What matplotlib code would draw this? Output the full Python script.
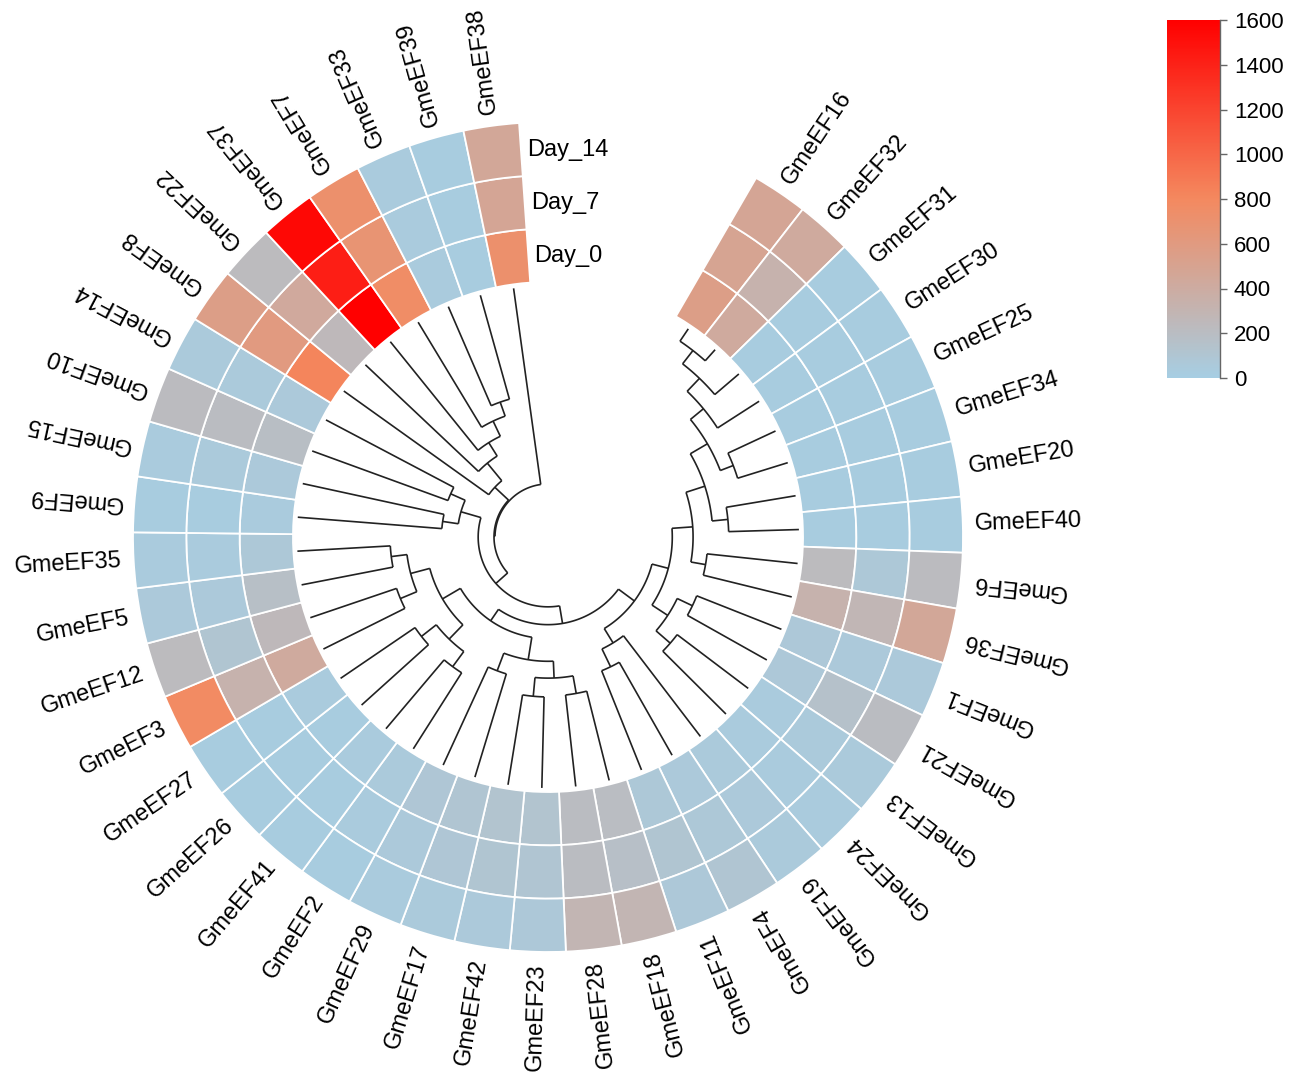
import numpy as np
import matplotlib
matplotlib.use("Agg")
import matplotlib.pyplot as plt
from matplotlib.patches import Wedge
from matplotlib.colors import LinearSegmentedColormap, Normalize
from matplotlib.cm import ScalarMappable

plt.rcParams['font.family'] = ['Liberation Sans', 'DejaVu Sans']

# genes in clockwise order, starting after the gap
genes = ["GmeEF16", "GmeEF32", "GmeEF31", "GmeEF30", "GmeEF25", "GmeEF34", "GmeEF20",
         "GmeEF40", "GmeEF6", "GmeEF36", "GmeEF1", "GmeEF21", "GmeEF13", "GmeEF24",
         "GmeEF19", "GmeEF4", "GmeEF11", "GmeEF18", "GmeEF28", "GmeEF23", "GmeEF42",
         "GmeEF17", "GmeEF29", "GmeEF2", "GmeEF41", "GmeEF26", "GmeEF27", "GmeEF3",
         "GmeEF12", "GmeEF5", "GmeEF35", "GmeEF9", "GmeEF15", "GmeEF10", "GmeEF14",
         "GmeEF8", "GmeEF22", "GmeEF37", "GmeEF7", "GmeEF33", "GmeEF39", "GmeEF38"]

days = ["Day_0", "Day_7", "Day_14"]

day_0 = [560, 420, 30, 30, 30, 30, 30, 30, 230, 330, 70, 70, 40, 40, 50, 60, 80, 200,
         210, 120, 120, 100, 90, 50, 40, 30, 40, 420, 250, 180, 80, 40, 60, 190, 60,
         820, 250, 1600, 760, 40, 30, 720]
day_7 = [490, 330, 30, 30, 30, 30, 30, 30, 80, 280, 60, 150, 50, 40, 60, 80, 110, 170,
         210, 100, 110, 90, 60, 40, 30, 30, 30, 330, 110, 60, 40, 30, 50, 210, 50,
         600, 430, 1420, 680, 40, 30, 470]
day_14 = [470, 420, 30, 30, 30, 30, 30, 30, 220, 450, 60, 210, 50, 40, 50, 100, 70, 290,
          290, 70, 60, 50, 40, 30, 30, 30, 30, 780, 230, 60, 40, 30, 40, 220, 50,
          560, 230, 1550, 720, 40, 30, 450]

# dendrogram merges: (node, left, right, height)
merges = [
    ("r1", "GmeEF16", "GmeEF32", 0.75),
    ("r2", "r1", "GmeEF31", 1.6),
    ("r3", "r2", "GmeEF30", 2.5),
    ("r4a", "GmeEF25", "GmeEF34", 2.65),
    ("r4", "r3", "r4a", 3.35),
    ("r5a", "GmeEF20", "GmeEF40", 3.55),
    ("r5", "r4", "r5a", 4.35),
    ("r6a", "GmeEF6", "GmeEF36", 4.6),
    ("r6", "r5", "r6a", 5.35),
    ("r7a", "GmeEF1", "GmeEF21", 4.6),
    ("r7b", "GmeEF13", "GmeEF24", 4.5),
    ("r7c", "r7a", "r7b", 5.45),
    ("r7", "r6", "r7c", 6.4),
    ("l1", "GmeEF4", "GmeEF11", 5.4),
    ("l2", "GmeEF19", "l1", 6.4),
    ("gr", "r7", "l2", 7.25),
    ("m1", "GmeEF18", "GmeEF28", 4.65),
    ("m2", "GmeEF23", "GmeEF42", 4.6),
    ("m3", "m1", "m2", 5.55),
    ("m4", "GmeEF17", "GmeEF29", 5.45),
    ("m5", "m3", "m4", 6.4),
    ("b1", "GmeEF2", "GmeEF41", 4.55),
    ("b2", "GmeEF26", "GmeEF27", 4.55),
    ("b3", "b1", "b2", 5.5),
    ("b4", "GmeEF3", "GmeEF12", 4.6),
    ("b5", "GmeEF5", "GmeEF35", 4.7),
    ("b6", "b4", "b5", 5.5),
    ("b7", "b3", "b6", 6.5),
    ("gl", "m5", "b7", 7.55),
    ("g", "gr", "gl", 8.25),
    ("f1", "GmeEF9", "GmeEF15", 7.3),
    ("f2", "GmeEF10", "GmeEF14", 7.3),
    ("f", "f1", "f2", 8.1),
    ("rest", "g", "f", 9.15),
    ("s1", "GmeEF33", "GmeEF39", 5.45),
    ("s2", "GmeEF7", "s1", 6.2),
    ("s3", "GmeEF37", "s2", 7.05),
    ("s4", "GmeEF22", "s3", 7.85),
    ("s5", "GmeEF8", "s4", 9.0),
    ("z", "rest", "s5", 9.95),
    ("root", "z", "GmeEF38", 10.0),
]

# layout in pixels
W, H = 1299, 1083
cx, cy = 548, H - 537
r_out = 415
ring_w = 160 / 3
r_in = r_out - 3 * ring_w
r_leaf = 251
r_root = 53
r_lab = 427
start_deg = 59.9
gap_deg = 34.1
step = (360 - gap_deg) / len(genes)


def ang(p):
    return np.deg2rad(start_deg - step * (np.asarray(p) + 0.5))


fig = plt.figure(figsize=(W / 100, H / 100), dpi=100)
ax = fig.add_axes([0, 0, 1, 1])
ax.set_xlim(0, W)
ax.set_ylim(0, H)
ax.set_aspect('equal')
ax.axis('off')

cmap = LinearSegmentedColormap.from_list('expr', ['#A6CEE3', '#F4895F', '#FF0000'])
norm = Normalize(0, 1600)

# heatmap rings (Day_0 inner -> Day_14 outer)
values = [day_0, day_7, day_14]
for k, vals in enumerate(values):
    r1 = r_in + (k + 1) * ring_w
    for i, v in enumerate(vals):
        t2 = start_deg - step * i
        t1 = t2 - step
        ax.add_patch(Wedge((cx, cy), r1, t1, t2, width=ring_w,
                           facecolor=cmap(norm(v)), edgecolor='white', lw=1.3))

# dendrogram
pos = {g: i for i, g in enumerate(genes)}
rad = {g: r_leaf for g in genes}
h_max = max(m[3] for m in merges)
line_kw = dict(color='#222222', lw=1.2, solid_capstyle='butt')

for name, a, b, h in merges:
    r = r_leaf - h / h_max * (r_leaf - r_root)
    th = ang(np.linspace(pos[a], pos[b], 80))
    ax.plot(cx + r * np.cos(th), cy + r * np.sin(th), **line_kw)
    for c in (a, b):
        t = ang(pos[c])
        ax.plot([cx + r * np.cos(t), cx + rad[c] * np.cos(t)],
                [cy + r * np.sin(t), cy + rad[c] * np.sin(t)], **line_kw)
    pos[name] = (pos[a] + pos[b]) / 2
    rad[name] = r

# gene labels
for i, g in enumerate(genes):
    t = ang(i)
    deg = (np.rad2deg(t) + 180) % 360 - 180
    x, y = cx + r_lab * np.cos(t), cy + r_lab * np.sin(t)
    if deg > 0:
        rot, ha = deg, 'left'
    else:
        rot, ha = deg + 180, 'right'
    ax.text(x, y, g, rotation=rot, rotation_mode='anchor', ha=ha, va='center',
            fontsize=17, color='black')

# ring labels in the gap
edge = np.deg2rad(start_deg + gap_deg)
for k, d in enumerate(days):
    r = r_in + (k + 0.5) * ring_w
    ax.text(cx + r * np.cos(edge) + 6, cy + r * np.sin(edge), d,
            ha='left', va='center', fontsize=17, color='black')

# colour bar
cax = fig.add_axes([1167 / W, 1 - 378 / H, 53 / W, 358 / H])
cb = fig.colorbar(ScalarMappable(norm=norm, cmap=cmap), cax=cax,
                  ticks=np.arange(0, 1601, 200))
cb.outline.set_visible(False)
cax.plot([1, 1], [0, 1], transform=cax.transAxes, color='#666666', lw=1, clip_on=False)
cax.tick_params(length=5, width=1, color='#666666', labelsize=16, pad=5)

fig.savefig('out.png', dpi=100)
